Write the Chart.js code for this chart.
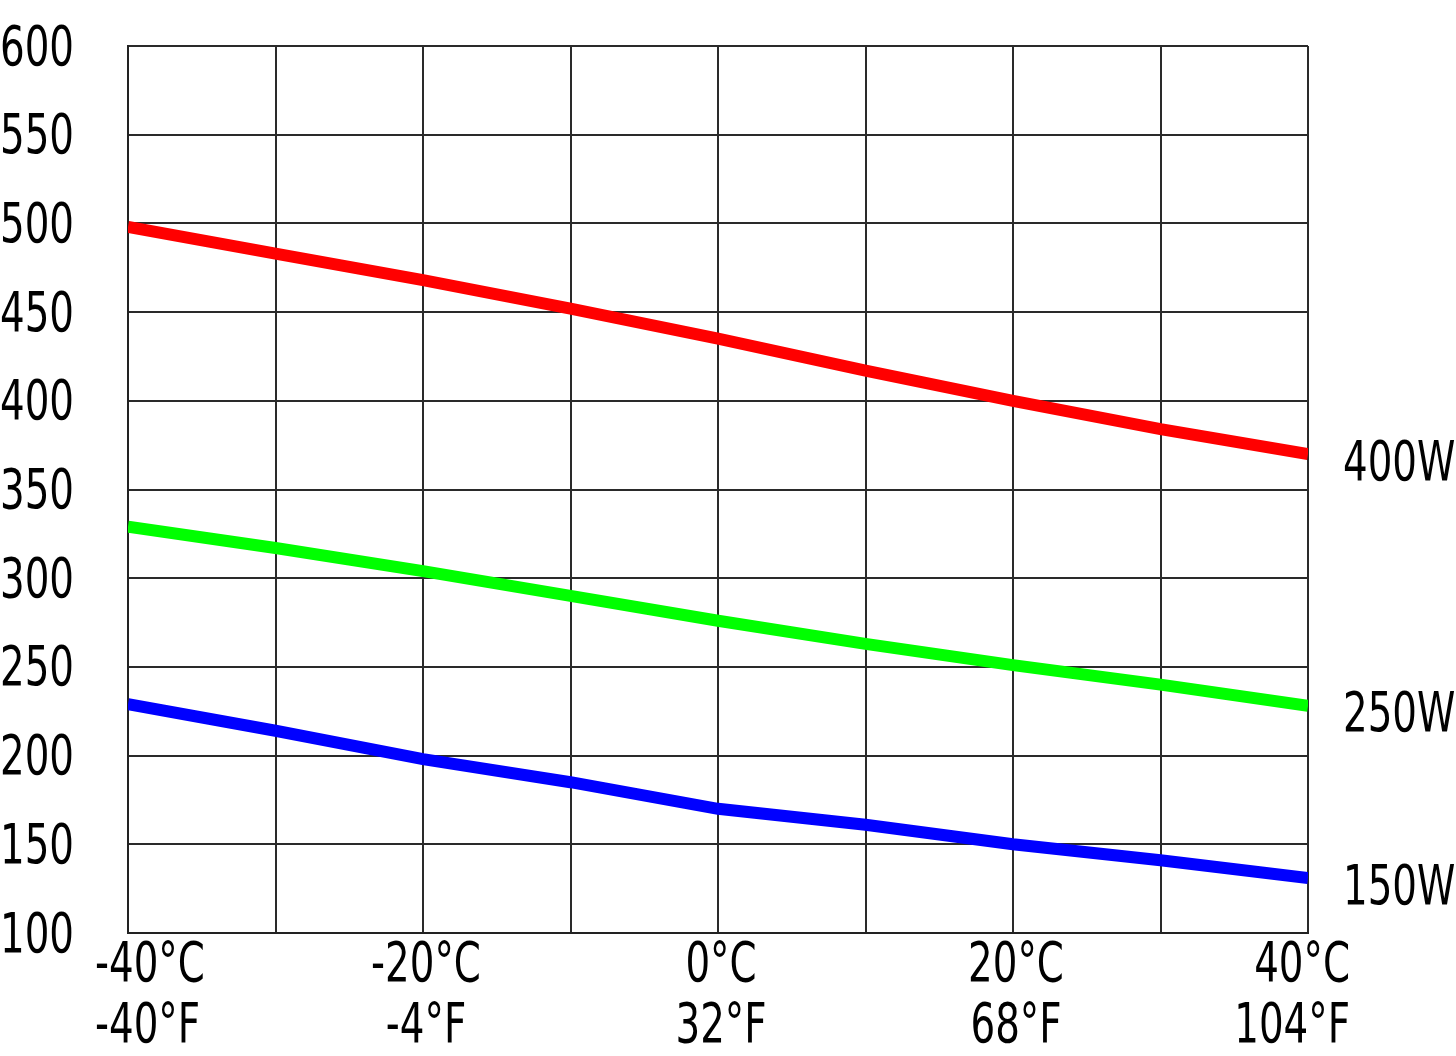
<!DOCTYPE html>
<html>
<head>
<meta charset="utf-8">
<script src="https://cdn.jsdelivr.net/npm/chart.js@4/dist/chart.umd.min.js"></script>
<style>
  html, body { margin: 0; padding: 0; background: #fff; }
  #wrap { width: 1456px; height: 1056px; }
</style>
</head>
<body>
<div id="wrap"><canvas id="c" width="1456" height="1056"></canvas></div>
<script>
// temperature in °C, with the matching °F for the axis labels
const tempC = [-40, -30, -20, -10, 0, 10, 20, 30, 40];
const labelC = {'-40':'-40°C', '-20':'-20°C', '0':'0°C', '20':'20°C', '40':'40°C'};
const labelF = {'-40':'-40°F', '-20':'-4°F', '0':'32°F', '20':'68°F', '40':'104°F'};

// series values
const w400 = [498, 483, 468, 452, 435, 417, 400, 384, 370];
const w250 = [329, 317, 304, 290, 276, 263, 251, 240, 228];
const w150 = [229, 214, 198, 185, 170, 161, 150, 141, 131];

const seriesNames = ['400W', '250W', '150W'];
const seriesColours = ['#ff0000', '#00ff00', '#0000ff'];

// the source uses a tall condensed face; squeeze DejaVu Condensed to get close
const FONT = '56px "DejaVu Sans Condensed", "DejaVu Sans", sans-serif';
const SQUEEZE = 0.77;

function points(vals){
	return tempC.map(function(t, i){ return {'x': t, 'y': vals[i]}; });
}

function squeezedText(ctx, txt, x, y, align){
	const w = ctx.measureText(txt).width * SQUEEZE;
	let left = x;
	if(align == 'center') left = x - w/2;
	else if(align == 'right') left = x - w;
	ctx.save();
	ctx.translate(left, y);
	ctx.scale(SQUEEZE, 1);
	ctx.textAlign = 'left';
	ctx.fillText(txt, 0, 0);
	ctx.restore();
}

// Axis labels and series names, placed from the chart's own scales
const labels = {
	id: 'labels',
	afterDraw: function(chart){
		const ctx = chart.ctx;
		const xs = chart.scales.x, ys = chart.scales.y;
		const area = chart.chartArea;
		let i, v, x, align;
		ctx.save();
		ctx.font = FONT;
		ctx.fillStyle = '#000';
		ctx.textBaseline = 'middle';

		// y ticks, flush left
		for(i = 0; i < ys.ticks.length; i++){
			v = ys.ticks[i].value;
			squeezedText(ctx, String(v), 0, ys.getPixelForValue(v) + 4, 'left');
		}

		// x ticks, two lines (°C over °F); end labels pulled inside the frame
		for(i = 0; i < xs.ticks.length; i++){
			v = xs.ticks[i].value;
			if(v % 20 !== 0) continue;
			x = xs.getPixelForValue(v);
			align = 'center';
			if(v == xs.min){ align = 'left'; x -= 33; }
			else if(v == xs.max){ align = 'right'; x += 42; }
			else x += 3;
			squeezedText(ctx, labelC[String(v)], x, area.bottom + 33, align);
			squeezedText(ctx, labelF[String(v)], x, area.bottom + 94, align);
		}

		// series names at the right-hand end of each line
		chart.data.datasets.forEach(function(ds){
			const last = ds.data[ds.data.length - 1];
			squeezedText(ctx, ds.label, xs.getPixelForValue(last.x) + 35, ys.getPixelForValue(last.y) + 11, 'left');
		});
		ctx.restore();
	}
};

new Chart(document.getElementById('c'), {
	type: 'line',
	data: {
		datasets: [w400, w250, w150].map(function(vals, s){
			return {
				label: seriesNames[s],
				data: points(vals),
				borderColor: seriesColours[s],
				backgroundColor: seriesColours[s],
				borderWidth: 12,
				pointRadius: 0,
				tension: 0,
				clip: 0
			};
		})
	},
	options: {
		responsive: false,
		animation: false,
		events: [],
		layout: { padding: { left: 0, top: 46, right: 148, bottom: 0 } },
		plugins: { legend: { display: false }, tooltip: { enabled: false } },
		scales: {
			x: {
				type: 'linear',
				min: -40, max: 40,
				afterFit: function(scale){ scale.height = 123; },
				border: { color: '#222', width: 2 },
				grid: { color: '#2a2a2a', lineWidth: 2, drawTicks: false },
				ticks: { stepSize: 10, autoSkip: false, display: false }
			},
			y: {
				min: 100, max: 600,
				afterFit: function(scale){ scale.width = 128; },
				border: { color: '#222', width: 2 },
				grid: { color: '#2a2a2a', lineWidth: 2, drawTicks: false },
				ticks: { stepSize: 50, display: false }
			}
		}
	},
	plugins: [labels]
});
</script>
</body>
</html>
